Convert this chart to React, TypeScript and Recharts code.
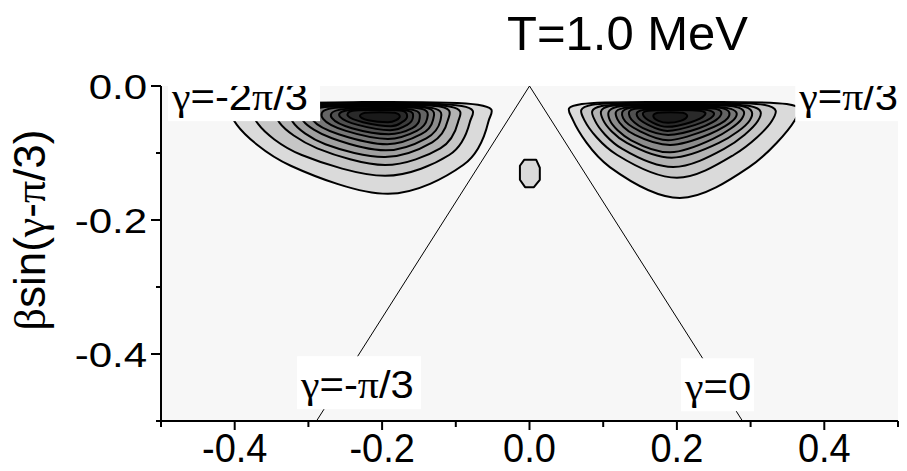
import React from "react";
import {
  CartesianGrid,
  Customized,
  ReferenceLine,
  Scatter,
  ScatterChart,
  XAxis,
  YAxis,
} from "recharts";

const FONT = '"Liberation Sans", Arial, Helvetica, sans-serif';
const GREEK = '"Liberation Serif", "Times New Roman", serif';

const xTicks = [-0.5, -0.4, -0.3, -0.2, -0.1, 0, 0.1, 0.2, 0.3, 0.4, 0.5];
const xTickLabels = ["", "-0.4", "", "-0.2", "", "0.0", "", "0.2", "", "0.4", ""];
const yTicks = [0, -0.1, -0.2, -0.3, -0.4, -0.5];
const yTickLabels = ["0.0", "", "-0.2", "", "-0.4", ""];

// contour rings, outermost level first; each ring is a closed list of (x, y)
const leftLobe: [number, number][][] = [
  [[-0.383, -0.030], [-0.227, -0.024], [-0.070, -0.028], [-0.056, -0.054], [-0.090, -0.118], [-0.192, -0.161], [-0.324, -0.119], [-0.397, -0.058]],
  [[-0.358, -0.030], [-0.225, -0.025], [-0.092, -0.030], [-0.081, -0.054], [-0.109, -0.103], [-0.196, -0.134], [-0.309, -0.103], [-0.368, -0.057]],
  [[-0.329, -0.031], [-0.218, -0.027], [-0.107, -0.031], [-0.097, -0.054], [-0.121, -0.093], [-0.196, -0.118], [-0.288, -0.093], [-0.339, -0.055]],
  [[-0.311, -0.031], [-0.216, -0.028], [-0.120, -0.031], [-0.111, -0.052], [-0.132, -0.084], [-0.196, -0.106], [-0.277, -0.087], [-0.321, -0.054]],
  [[-0.298, -0.033], [-0.214, -0.029], [-0.131, -0.033], [-0.121, -0.052], [-0.140, -0.078], [-0.195, -0.096], [-0.268, -0.078], [-0.307, -0.052]],
  [[-0.286, -0.033], [-0.212, -0.030], [-0.139, -0.033], [-0.131, -0.051], [-0.147, -0.072], [-0.193, -0.087], [-0.259, -0.072], [-0.294, -0.051]],
  [[-0.272, -0.034], [-0.210, -0.031], [-0.147, -0.034], [-0.139, -0.049], [-0.153, -0.067], [-0.192, -0.079], [-0.249, -0.067], [-0.280, -0.049]],
  [[-0.260, -0.036], [-0.208, -0.033], [-0.157, -0.036], [-0.149, -0.048], [-0.159, -0.063], [-0.191, -0.072], [-0.241, -0.063], [-0.268, -0.048]],
  [[-0.250, -0.037], [-0.207, -0.034], [-0.165, -0.037], [-0.158, -0.046], [-0.166, -0.058], [-0.189, -0.066], [-0.233, -0.058], [-0.257, -0.046]],
  [[-0.240, -0.037], [-0.206, -0.036], [-0.173, -0.037], [-0.166, -0.045], [-0.173, -0.054], [-0.188, -0.060], [-0.226, -0.054], [-0.246, -0.045]],
  [[-0.223, -0.040], [-0.203, -0.039], [-0.183, -0.040], [-0.176, -0.045], [-0.181, -0.051], [-0.192, -0.054], [-0.219, -0.051], [-0.230, -0.045]],
];

const rightLobe: [number, number][][] = [
  [[0.071, -0.027], [0.210, -0.024], [0.349, -0.027], [0.360, -0.051], [0.298, -0.121], [0.204, -0.167], [0.109, -0.121], [0.059, -0.051]],
  [[0.085, -0.028], [0.201, -0.025], [0.318, -0.028], [0.329, -0.052], [0.277, -0.103], [0.200, -0.137], [0.119, -0.103], [0.075, -0.052]],
  [[0.098, -0.030], [0.199, -0.027], [0.299, -0.030], [0.310, -0.052], [0.264, -0.094], [0.195, -0.121], [0.126, -0.094], [0.089, -0.052]],
  [[0.109, -0.030], [0.199, -0.028], [0.288, -0.030], [0.299, -0.051], [0.257, -0.085], [0.193, -0.107], [0.132, -0.085], [0.100, -0.051]],
  [[0.119, -0.031], [0.199, -0.029], [0.279, -0.031], [0.288, -0.049], [0.249, -0.079], [0.191, -0.099], [0.138, -0.081], [0.109, -0.051]],
  [[0.127, -0.033], [0.199, -0.030], [0.269, -0.033], [0.279, -0.048], [0.244, -0.072], [0.191, -0.088], [0.143, -0.073], [0.119, -0.049]],
  [[0.135, -0.033], [0.197, -0.031], [0.261, -0.033], [0.269, -0.048], [0.237, -0.067], [0.188, -0.081], [0.149, -0.067], [0.127, -0.048]],
  [[0.143, -0.034], [0.197, -0.033], [0.252, -0.034], [0.258, -0.046], [0.230, -0.063], [0.188, -0.073], [0.154, -0.063], [0.136, -0.046]],
  [[0.153, -0.036], [0.197, -0.034], [0.242, -0.036], [0.249, -0.045], [0.225, -0.058], [0.187, -0.067], [0.161, -0.058], [0.146, -0.045]],
  [[0.161, -0.037], [0.196, -0.036], [0.231, -0.037], [0.238, -0.043], [0.219, -0.054], [0.187, -0.061], [0.166, -0.054], [0.154, -0.043]],
  [[0.174, -0.040], [0.191, -0.039], [0.208, -0.040], [0.214, -0.045], [0.205, -0.052], [0.188, -0.055], [0.175, -0.052], [0.168, -0.045]],
];

const centerBlob: [number, number][] = [
  [-0.013, -0.119], [-0.007, -0.110], [0.009, -0.110], [0.014, -0.122],
  [0.014, -0.140], [0.006, -0.151], [-0.006, -0.151], [-0.013, -0.140],
];

const levelFills = [
  "#dadada", "#c6c6c6", "#b3b3b3", "#a0a0a0", "#8c8c8c", "#787878",
  "#646464", "#505050", "#3c3c3c", "#2a2a2a", "#1a1a1a",
];

const gammaLines = [
  [{ x: 0, y: 0 }, { x: -0.289, y: -0.5 }],
  [{ x: 0, y: 0 }, { x: 0.289, y: -0.5 }],
];

const gammaLabels = [
  { text: "γ=-2π/3", x: -0.485, y: -0.036 },
  { text: "γ=π/3", x: 0.366, y: -0.036 },
  { text: "γ=-π/3", x: -0.31, y: -0.466 },
  { text: "γ=0", x: 0.211, y: -0.469 },
];

const boxWidths: Record<string, number> = {
  "γ=-2π/3": 152,
  "γ=π/3": 112,
  "γ=-π/3": 124,
  "γ=0": 73,
};

const toPoints = (ring: [number, number][]) => ring.map(([x, y]) => ({ x, y }));

// closed catmull-rom path through the projected ring points
function closedPath(pts: { x: number; y: number }[], smooth: boolean) {
  const n = pts.length;
  if (!n) return "";
  if (!smooth) return "M" + pts.map((p) => `${p.x},${p.y}`).join("L") + "Z";
  let d = `M${pts[0].x},${pts[0].y}`;
  for (let i = 0; i < n; i++) {
    const p0 = pts[(i - 1 + n) % n];
    const p1 = pts[i];
    const p2 = pts[(i + 1) % n];
    const p3 = pts[(i + 2) % n];
    const c1x = p1.x + (p2.x - p0.x) / 6;
    const c1y = p1.y + (p2.y - p0.y) / 6;
    const c2x = p2.x - (p3.x - p1.x) / 6;
    const c2y = p2.y - (p3.y - p1.y) / 6;
    d += `C${c1x},${c1y} ${c2x},${c2y} ${p2.x},${p2.y}`;
  }
  return d + "Z";
}

// greek letters in a serif face, the rest in sans
function greekSpans(text: string) {
  return Array.from(text).map((ch, i) =>
    ch === "γ" || ch === "π" || ch === "β" ? (
      <tspan key={i} fontFamily={GREEK}>
        {ch}
      </tspan>
    ) : (
      <tspan key={i}>{ch}</tspan>
    )
  );
}

const Hidden = () => <g />;

function ringLine(fill: string, smooth = true) {
  return (lp: any) => (
    <path
      d={closedPath(lp.points || [], smooth)}
      fill={fill}
      stroke="#000"
      strokeWidth={2}
      strokeLinejoin="round"
    />
  );
}

function XTick(p: any) {
  const label = xTickLabels[p.index] ?? "";
  const len = label ? 9 : 6;
  return (
    <g>
      <line x1={p.x} x2={p.x} y1={p.y} y2={p.y + len} stroke="#000" strokeWidth={2} />
      {label && (
        <text
          transform={`translate(${p.x},${p.y + 41}) scale(0.95,1)`}
          textAnchor="middle"
          fontSize={40}
          fontFamily={FONT}
          fill="#000"
        >
          {label}
        </text>
      )}
    </g>
  );
}

function YTick(p: any) {
  const i = yTicks.findIndex((t) => Math.abs(t - p.payload.value) < 1e-9);
  const label = yTickLabels[i] ?? "";
  const len = label ? 10 : 5;
  return (
    <g>
      <line x1={p.x} x2={p.x - len} y1={p.y} y2={p.y} stroke="#000" strokeWidth={2} />
      {label && (
        <text
          transform={`translate(${p.x - 14},${p.y + 13}) scale(1.2,1)`}
          textAnchor="end"
          fontSize={35}
          fontFamily={FONT}
          fill="#000"
        >
          {label}
        </text>
      )}
    </g>
  );
}

function LabelBox(p: any) {
  const text: string = p.payload?.text ?? p.text ?? "";
  const w = boxWidths[text] ?? 100;
  return (
    <g>
      <rect x={p.cx - 4} y={p.cy - 42} width={w} height={53} fill="#fff" />
      <text
        transform={`translate(${p.cx},${p.cy}) scale(1.1,1)`}
        fontSize={38}
        fontFamily={FONT}
        fill="#000"
      >
        {greekSpans(text)}
      </text>
    </g>
  );
}

function Titles() {
  return (
    <g fontFamily={FONT} fill="#000">
      <text x={507} y={50} fontSize={49}>
        T=1.0 MeV
      </text>
      <text transform="translate(45,230) rotate(-90)" textAnchor="middle" fontSize={44}>
        {greekSpans("βsin(γ-π/3)")}
      </text>
    </g>
  );
}

export default function App() {
  return (
    <div style={{ position: "absolute", left: 0, top: 0, width: 907, height: 471, background: "#fff" }}>
      <ScatterChart width={907} height={471} margin={{ top: 86, right: 9, bottom: 0, left: 0 }}>
        <CartesianGrid fill="#f7f7f7" stroke="none" horizontal={false} vertical={false} />
        <XAxis
          type="number"
          dataKey="x"
          domain={[-0.5, 0.5]}
          ticks={xTicks}
          interval={0}
          allowDataOverflow
          height={50}
          tickSize={0}
          tickMargin={0}
          tickLine={false}
          tick={<XTick />}
          axisLine={{ stroke: "#000", strokeWidth: 2 }}
        />
        <XAxis
          xAxisId="top"
          orientation="top"
          type="number"
          domain={[-0.5, 0.5]}
          ticks={xTicks}
          interval={0}
          allowDataOverflow
          height={0}
          mirror
          tickSize={4}
          tick={false}
          tickLine={{ stroke: "#000", strokeWidth: 1.5 }}
          axisLine={{ stroke: "#000", strokeWidth: 2 }}
        />
        <YAxis
          type="number"
          dataKey="y"
          domain={[-0.5, 0]}
          ticks={yTicks}
          interval={0}
          allowDataOverflow
          width={161}
          tickSize={0}
          tickMargin={0}
          tickLine={false}
          tick={<YTick />}
          axisLine={{ stroke: "#000", strokeWidth: 2 }}
        />
        <YAxis
          yAxisId="right"
          orientation="right"
          type="number"
          domain={[-0.5, 0]}
          ticks={yTicks}
          interval={0}
          allowDataOverflow
          width={0}
          mirror
          tickSize={4}
          tick={false}
          tickLine={{ stroke: "#000", strokeWidth: 1.5 }}
          axisLine={{ stroke: "#000", strokeWidth: 2 }}
        />
        {gammaLines.map((seg, i) => (
          <ReferenceLine key={`g${i}`} segment={seg} stroke="#000" strokeWidth={1} ifOverflow="visible" />
        ))}
        {levelFills.map((fill, i) =>
          [leftLobe[i], rightLobe[i]].map((ring, j) => (
            <Scatter
              key={`c${i}-${j}`}
              data={toPoints(ring)}
              fill={fill}
              shape={Hidden}
              line={ringLine(fill)}
              isAnimationActive={false}
            />
          ))
        )}
        <Scatter
          data={toPoints(centerBlob)}
          fill={levelFills[0]}
          shape={Hidden}
          line={ringLine(levelFills[0], false)}
          isAnimationActive={false}
        />
        <Scatter data={gammaLabels} shape={LabelBox} isAnimationActive={false} />
        <Customized component={Titles} />
      </ScatterChart>
    </div>
  );
}
